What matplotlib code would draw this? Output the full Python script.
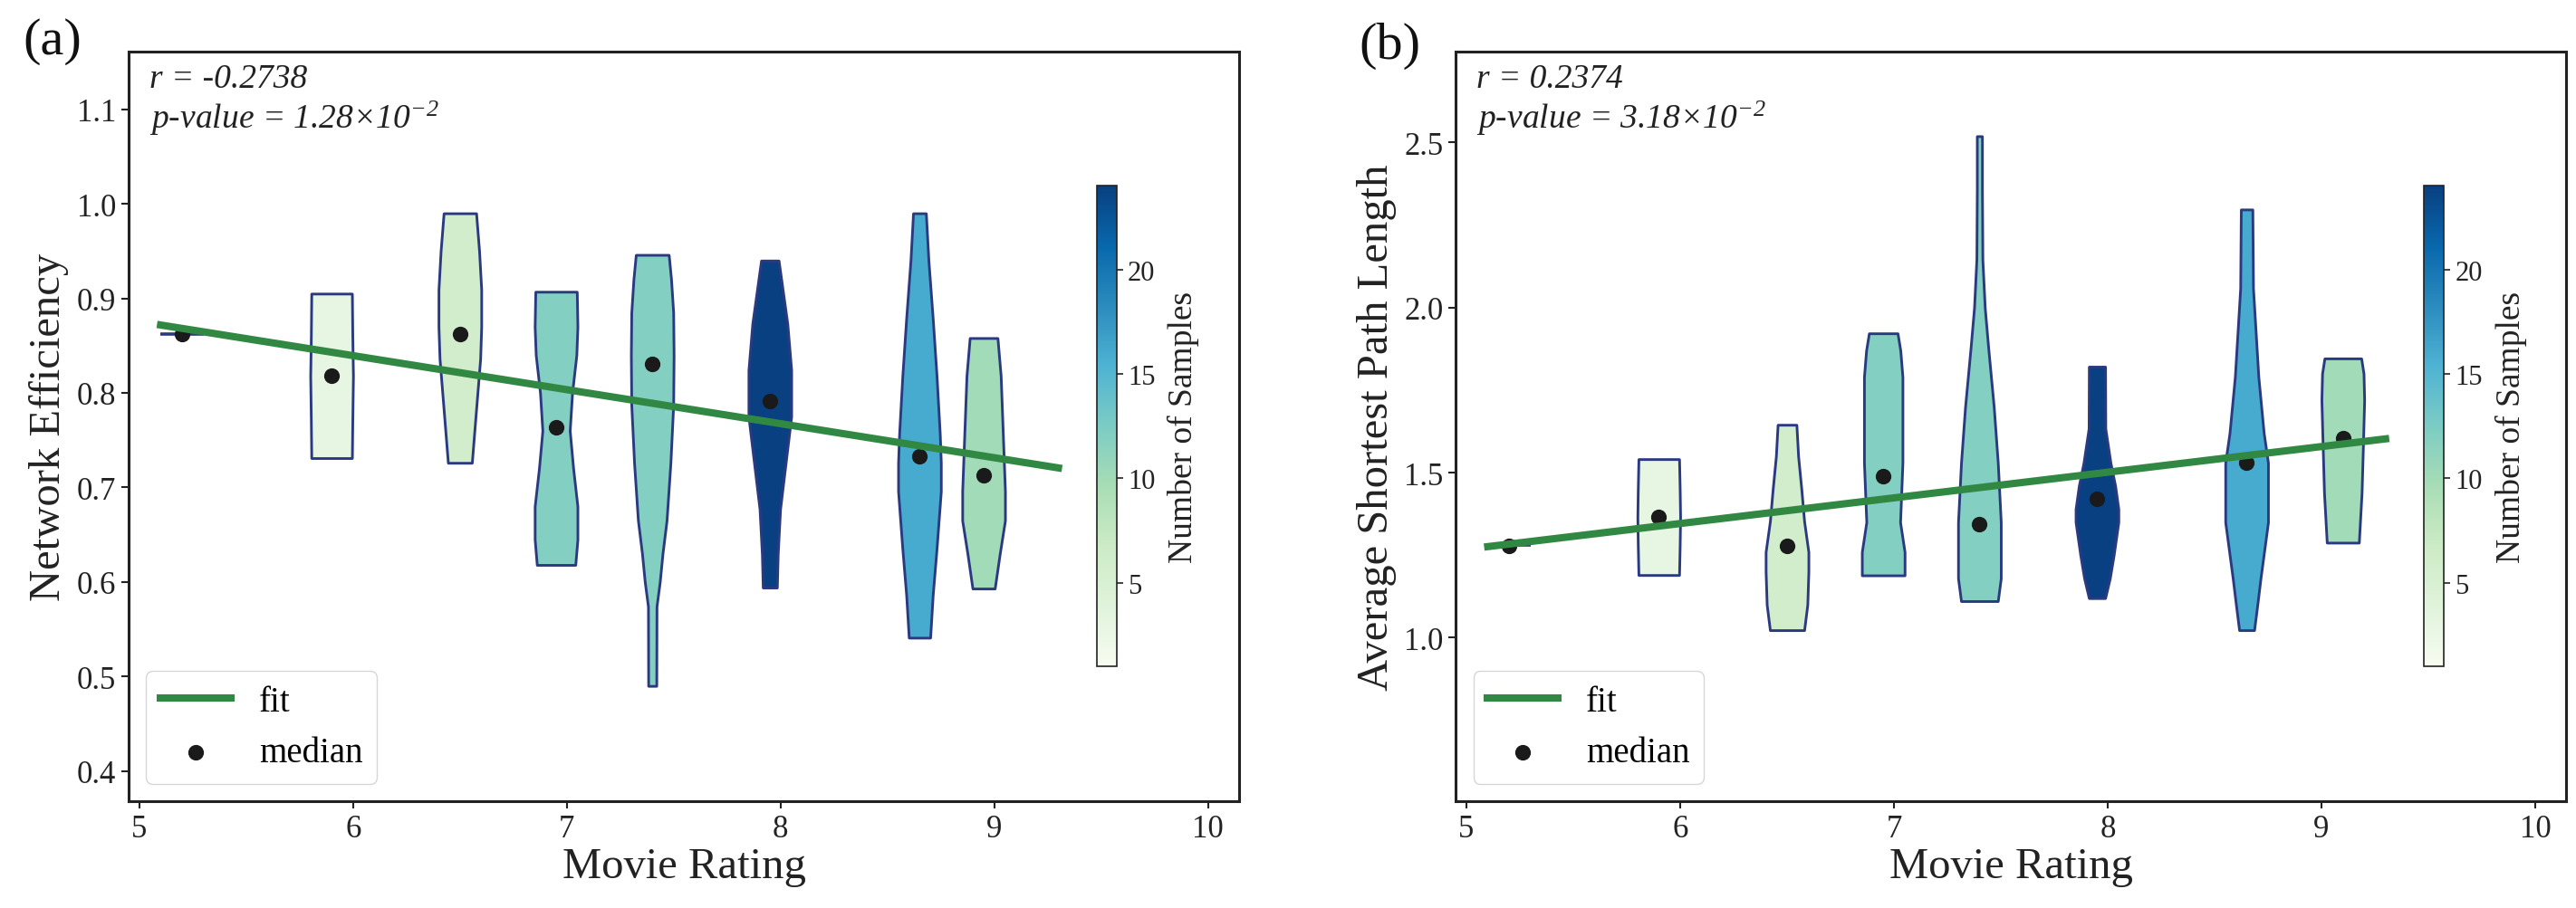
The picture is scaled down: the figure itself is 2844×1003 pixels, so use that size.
import numpy as np
import matplotlib
matplotlib.use('Agg')
import matplotlib.pyplot as plt
from matplotlib.colors import Normalize
from matplotlib.cm import ScalarMappable

plt.rcParams['font.family'] = ['Liberation Serif', 'DejaVu Serif']
plt.rcParams['mathtext.fontset'] = 'custom'
plt.rcParams['mathtext.rm'] = 'Liberation Serif:italic'
plt.rcParams['mathtext.it'] = 'Liberation Serif:italic'

# --- data ---
ratings_a = [5.2, 5.9, 6.5, 6.95, 7.4, 7.95, 8.65, 8.95]
ratings_b = [5.2, 5.9, 6.5, 6.95, 7.4, 7.95, 8.65, 9.1]
n_samples = [1, 3, 6, 12, 12, 24, 16, 10]

median_a = [0.862, 0.818, 0.862, 0.764, 0.831, 0.791, 0.733, 0.713]
median_b = [1.278, 1.365, 1.279, 1.490, 1.344, 1.420, 1.531, 1.605]

# violin outlines: (value, relative half width), bottom to top
shape_a = [
    [(0.862, 1.0)],
    [(0.731, 0.95), (0.77, 0.97), (0.818, 1.0), (0.86, 0.97), (0.905, 0.95)],
    [(0.726, 0.56), (0.78, 0.75), (0.836, 0.95), (0.87, 1.0), (0.909, 1.0),
     (0.95, 0.9), (0.99, 0.76)],
    [(0.618, 0.9), (0.645, 1.0), (0.68, 1.0), (0.72, 0.8), (0.76, 0.64),
     (0.80, 0.75), (0.84, 0.95), (0.87, 1.0), (0.907, 0.97)],
    [(0.49, 0.19), (0.574, 0.2), (0.60, 0.35), (0.63, 0.48), (0.665, 0.67),
     (0.726, 0.85), (0.787, 0.98), (0.84, 1.0), (0.885, 0.98), (0.92, 0.88),
     (0.946, 0.77)],
    [(0.594, 0.33), (0.629, 0.37), (0.677, 0.48), (0.726, 0.74), (0.775, 1.0),
     (0.80, 1.0), (0.824, 1.0), (0.873, 0.82), (0.909, 0.6), (0.94, 0.41)],
    [(0.541, 0.5), (0.586, 0.62), (0.635, 0.8), (0.696, 1.0), (0.726, 1.0),
     (0.757, 0.95), (0.818, 0.8), (0.879, 0.62), (0.94, 0.42), (0.99, 0.3)],
    [(0.593, 0.52), (0.629, 0.75), (0.665, 1.0), (0.696, 1.0), (0.757, 0.9),
     (0.818, 0.8), (0.858, 0.65)],
]
shape_b = [
    [(1.282, 1.0)],
    [(1.19, 0.95), (1.28, 0.98), (1.365, 1.0), (1.45, 0.98), (1.541, 0.95)],
    [(1.023, 0.8), (1.10, 0.95), (1.20, 1.0), (1.26, 1.0), (1.353, 0.8),
     (1.45, 0.67), (1.55, 0.52), (1.645, 0.44)],
    [(1.189, 1.0), (1.26, 1.0), (1.35, 0.79), (1.53, 0.9), (1.79, 0.9),
     (1.87, 0.8), (1.922, 0.67)],
    [(1.111, 0.86), (1.18, 1.0), (1.35, 1.0), (1.53, 0.86), (1.70, 0.67),
     (1.88, 0.41), (2.0, 0.25), (2.146, 0.14), (2.357, 0.12), (2.519, 0.12)],
    [(1.12, 0.38), (1.18, 0.6), (1.25, 0.78), (1.35, 1.0), (1.39, 1.0),
     (1.46, 0.85), (1.53, 0.63), (1.634, 0.39), (1.821, 0.38)],
    [(1.023, 0.35), (1.10, 0.5), (1.18, 0.65), (1.35, 1.0), (1.53, 1.0),
     (1.62, 0.8), (1.79, 0.55), (2.058, 0.3), (2.297, 0.27)],
    [(1.288, 0.75), (1.44, 0.88), (1.60, 0.95), (1.72, 1.0), (1.80, 0.97),
     (1.846, 0.86)],
]

# linear fits (slope, intercept) and the x range they span
fit_a = [-0.0360, 1.0554]
fit_b = [0.0777, 0.8797]
fit_x = [5.1, 9.3]

stats_a = ['r = -0.2738', 'p-value = 1.28×10$^{-2}$']
stats_b = ['r = 0.2374', 'p-value = 3.18×10$^{-2}$']
ylabels = ['Network Efficiency', 'Average Shortest Path Length']
ylims = [(0.368, 1.161), (0.505, 2.775)]
yticks = [[0.4, 0.5, 0.6, 0.7, 0.8, 0.9, 1.0, 1.1], [1.0, 1.5, 2.0, 2.5]]
xticks = [5, 6, 7, 8, 9, 10]
cbar_ticks = [5, 10, 15, 20]

# --- style ---
edge = '#2b3a80'
green = '#318843'
dark = '#222222'
cmap = plt.get_cmap('GnBu')
norm = Normalize(1, 24)

fig = plt.figure(figsize=(28.44, 10.04), dpi=100)
axes = [fig.add_axes([0.0499, 0.1175, 0.4311, 0.8247]),
        fig.add_axes([0.5651, 0.1175, 0.4311, 0.8247])]

panels = [(ratings_a, median_a, shape_a, fit_a, stats_a),
          (ratings_b, median_b, shape_b, fit_b, stats_b)]

for i, (ax, (pos, med, shapes, fit, stats)) in enumerate(zip(axes, panels)):
    vp_stats, vp_pos, vp_cols = [], [], []
    for p, m, s, n in zip(pos, med, shapes, n_samples):
        ys, ws = zip(*s)
        if len(ys) == 1:
            # a single observation is shown as a flat line
            ax.hlines(ys[0], p - 0.1, p + 0.1, color=edge, lw=2.6, zorder=1)
            continue
        vp_stats.append(dict(coords=np.array(ys), vals=np.array(ws), mean=m,
                             median=m, min=min(ys), max=max(ys)))
        vp_pos.append(p)
        vp_cols.append(cmap(norm(n)))
    parts = ax.violin(vp_stats, positions=vp_pos, widths=0.2,
                      showmeans=False, showextrema=False, showmedians=False)
    for body, c in zip(parts['bodies'], vp_cols):
        body.set_facecolor(c)
        body.set_edgecolor(edge)
        body.set_linewidth(2.1)
        body.set_alpha(1)
        body.set_zorder(1)

    ax.scatter(pos, med, s=130, color='#1a1a1a', zorder=2, label='median')
    fx = np.array(fit_x)
    ax.plot(fx, np.polyval(fit, fx), color=green, lw=5.8, zorder=3, label='fit')

    ax.set_xlim(4.95, 10.145)
    ax.set_ylim(*ylims[i])
    ax.set_xticks(xticks)
    ax.set_yticks(yticks[i])
    ax.tick_params(direction='out', length=6, width=1.5, labelsize=25,
                   pad=4, colors=dark)
    for sp in ax.spines.values():
        sp.set_linewidth(2.2)
        sp.set_color(dark)
    ax.set_xlabel('Movie Rating', fontsize=35, color=dark, labelpad=2)
    ax.set_ylabel(ylabels[i], fontsize=35, color=dark, labelpad=6)

    ax.text(0.019, 0.964, stats[0], transform=ax.transAxes, fontsize=27,
            fontstyle='italic', va='center', ha='left', color=dark)
    ax.text(0.019, 0.912, stats[1], transform=ax.transAxes, fontsize=27,
            fontstyle='italic', va='center', ha='left', color=dark)

    h, l = ax.get_legend_handles_labels()
    ax.legend(h[::-1], l[::-1], loc='lower left', fontsize=28)

    cax = ax.inset_axes([0.872, 0.18, 0.018, 0.641])
    cb = fig.colorbar(ScalarMappable(norm=norm, cmap=cmap), cax=cax)
    cb.set_ticks(cbar_ticks)
    cb.ax.tick_params(labelsize=22, length=5, width=1.2, colors=dark)
    cb.outline.set_linewidth(1.2)
    cb.outline.set_edgecolor(dark)
    cb.set_label('Number of Samples', fontsize=27, color=dark, labelpad=10)

fig.text(0.0204, 0.954, '(a)', fontsize=42, ha='center', va='center', color='#111111')
fig.text(0.5397, 0.949, '(b)', fontsize=42, ha='center', va='center', color='#111111')

fig.savefig('out.png', dpi=100)
